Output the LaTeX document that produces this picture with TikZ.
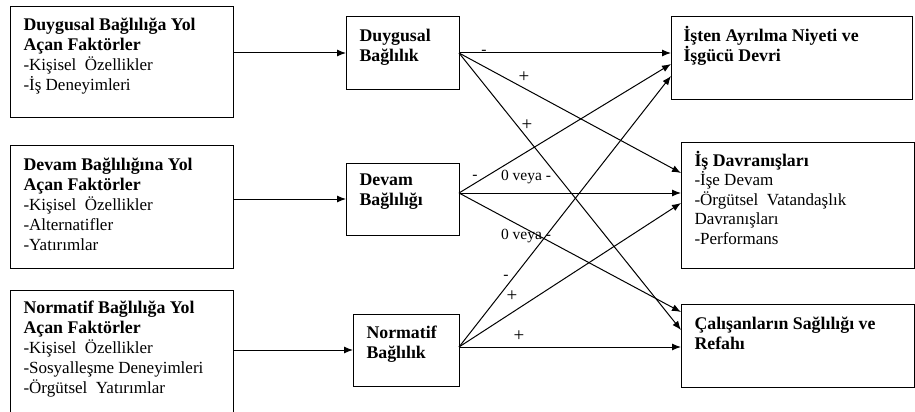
\documentclass[tikz,border=0pt]{standalone}
\usepackage{fontspec}
\setmainfont{Liberation Serif}
\usetikzlibrary{arrows.meta}

\newcommand{\hd}[1]{{\fontsize{17.8}{20}\selectfont\bfseries #1}}

\begin{document}
\begin{tikzpicture}[x=1pt, y=-1pt, line width=1pt, >={Latex[length=9pt,width=7pt]},
		box/.style={draw, shape=rectangle, inner sep=0pt, outer sep=0pt},
		txt/.style={anchor=north west, align=left, inner sep=0pt, font=\fontsize{17}{20}\selectfont},
		sgn/.style={inner sep=0pt, font=\fontsize{15.5}{17}\selectfont},
		pls/.style={inner sep=0pt, font=\fontsize{19}{20}\selectfont}]
		\useasboundingbox (0,0) rectangle (915,412);
		% left: factors
		\node (fac1) [box, minimum width=223, minimum height=110] at (121.5,62) {};
		\node (fac2) [box, minimum width=223, minimum height=123] at (121.5,206.5) {};
		\node (fac3) [box, minimum width=223, minimum height=140] at (121.5,360) {};
		\node (fac1t) [txt] at (23,17.7) {\hd{Duygusal Bağlılığa Yol}\\\hd{Açan Faktörler}\\-Kişisel\ \ Özellikler\\-İş Deneyimleri};
		\node (fac2t) [txt] at (23,157.7) {\hd{Devam Bağlılığına Yol}\\\hd{Açan Faktörler}\\-Kişisel\ \ Özellikler\\-Alternatifler\\-Yatırımlar};
		\node (fac3t) [txt] at (23,300.7) {\hd{Normatif Bağlılığa Yol}\\\hd{Açan Faktörler}\\-Kişisel\ \ Özellikler\\-Sosyalleşme Deneyimleri\\-Örgütsel\ \ Yatırımlar};
		% middle: commitment
		\node (duy) [box, minimum width=113, minimum height=72] at (402.5,53) {};
		\node (dev) [box, minimum width=113, minimum height=72] at (402.5,199) {};
		\node (nor) [box, minimum width=106, minimum height=72] at (406,350) {};
		\node (duyt) [txt] at (359,28.4) {\hd{Duygusal}\\\hd{Bağlılık}};
		\node (devt) [txt] at (359,173.7) {\hd{Devam}\\\hd{Bağlılığı}};
		\node (nort) [txt] at (366,325) {\hd{Normatif}\\\hd{Bağlılık}};
		% right: outcomes
		\node (ayr) [box, minimum width=241, minimum height=82] at (791.5,58) {};
		\node (dav) [box, minimum width=233, minimum height=126] at (797.5,205) {};
		\node (sag) [box, minimum width=233, minimum height=83] at (797.5,345.5) {};
		\node (ayrt) [txt] at (683,25.5) {\hd{İşten Ayrılma Niyeti ve}\\\hd{İşgücü Devri}};
		\node (davt) [txt, font=\fontsize{17}{19.5}\selectfont] at (694,150.5) {\hd{İş Davranışları}\\-İşe Devam\\-Örgütsel\ \ Vatandaşlık\\Davranışları\\-Performans};
		\node (sagt) [txt] at (694,316.4) {\hd{Çalışanların Sağlılığı ve}\\\hd{Refahı}};
		
		\coordinate (devo) at ([yshift=6pt]dev.east);
		\coordinate (noro) at ([yshift=3pt]nor.east);
		
		\draw[->]   (fac1.east |- duy.west) -- (duy.west);
		\draw[->]   (fac2.east |- dev.west) -- (dev.west);
		\draw[->]   (fac3.east |- nor.west) -- (nor.west);
		
		\draw[->]   (duy.east) -- (duy.east -| ayr.west);
		\draw[->]   (duy.east) -- ([yshift=32pt]dav.west);
		\draw[->]   (duy.east) -- ([yshift=15.5pt]sag.west);
		\draw[->]   (devo) -- ([yshift=-6pt]ayr.west);
		\draw[->]   (devo) -- (devo -| dav.west);
		\draw[->]   (devo) -- ([yshift=33.5pt]sag.west);
		\draw[->]   (noro) -- ([yshift=-18pt]ayr.west);
		\draw[->]   (noro) -- ([yshift=2pt]dav.west);
		\draw[->]   (noro) -- (noro -| sag.west);
		
		\node (s1) [sgn] at (484,52) {-};
		\node (s2) [pls] at (524,77) {+};
		\node (s3) [pls] at (527,125) {+};
		\node (s4) [sgn] at (475,177) {-};
		\node (s5) [sgn] at (526,177) {0 veya -};
		\node (s6) [sgn] at (526,236) {0 veya -};
		\node (s7) [sgn] at (506,277) {-};
		\node (s8) [pls] at (512,296) {+};
		\node (s9) [pls] at (519,336) {+};
		\end{tikzpicture}
\end{document}
